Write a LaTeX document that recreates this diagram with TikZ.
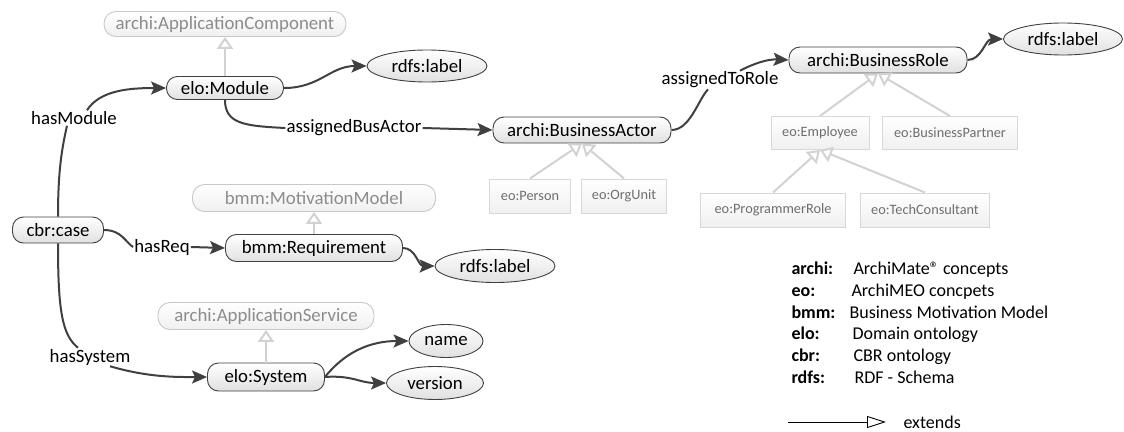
\documentclass[tikz,border=0pt]{standalone}
\usepackage{fontspec}
\setmainfont{Carlito}
\usetikzlibrary{arrows.meta,shapes.geometric}
\definecolor{edgec}{HTML}{404040}
\definecolor{genc}{HTML}{D2D2D2}
\definecolor{gtext}{HTML}{8C8C8C}
\definecolor{gborder}{HTML}{C8C8C8}
\definecolor{btext}{HTML}{6E6E6E}
\definecolor{bborder}{HTML}{D8D8D8}
\tikzset{
  pill/.style={draw=edgec, line width=0.9pt, rounded corners=11pt, top color=white, bottom color=black!12, inner sep=0pt},
  ghost/.style={draw=gborder, line width=0.9pt, text=gtext, rounded corners=12pt, top color=white, bottom color=black!6, inner sep=0pt},
  subbox/.style={draw=bborder, line width=1pt, text=btext, top color=white, bottom color=black!6, inner sep=0pt, font=\fontsize{14.3}{17}\selectfont},
  attr/.style={ellipse, draw=edgec, line width=0.9pt, top color=white, bottom color=black!12, inner sep=0pt},
  rel/.style={draw=edgec, line width=2pt, -{Stealth[length=15pt,width=13pt,inset=3pt]}},
  relplain/.style={draw=edgec, line width=2pt},
  isa/.style={draw=genc, line width=2pt, -{Triangle[open, length=12pt, width=16pt, fill=white]}},
  lbl/.style={inner sep=1pt},
  legkey/.style={anchor=base west, font=\fontsize{18}{22}\selectfont\bfseries},
  legval/.style={anchor=base west, font=\fontsize{18}{22}\selectfont},
}
\begin{document}
\begin{tikzpicture}[x=1pt,y=-1pt,font=\fontsize{18.8}{22}\selectfont]
\useasboundingbox (0,0) rectangle (1124,431);

% ghost supertypes
\node[ghost, minimum width=242pt, minimum height=25pt] (appcomp) at (225,24) {archi:ApplicationComponent};
\node[ghost, minimum width=243pt, minimum height=27pt] (motiv) at (314,198) {bmm:MotivationModel};
\node[ghost, minimum width=216pt, minimum height=27pt] (appserv) at (266,316) {archi:ApplicationService};

% main nodes
\node[pill, minimum width=117pt, minimum height=23pt] (module) at (225,88) {elo:Module};
\node[pill, minimum width=178pt, minimum height=26pt] (actor) at (582,130) {archi:BusinessActor};
\node[pill, minimum width=178pt, minimum height=26pt] (role) at (878,60) {archi:BusinessRole};
\node[pill, minimum width=177pt, minimum height=27pt] (req) at (314,248) {bmm:Requirement};
\node[pill, minimum width=91pt, minimum height=26pt] (case) at (58,230) {cbr:case};
\node[pill, minimum width=117pt, minimum height=28pt] (system) at (266,377) {elo:System};

% attributes
\node[attr, minimum width=120pt, minimum height=32pt] (lab1) at (427,66) {rdfs:label};
\node[attr, minimum width=119pt, minimum height=32pt] (lab2) at (1063,39) {rdfs:label};
\node[attr, minimum width=120pt, minimum height=33pt] (lab3) at (495,266) {rdfs:label};
\node[attr, minimum width=74pt, minimum height=33pt] (name) at (446,341) {name};
\node[attr, minimum width=97pt, minimum height=33pt] (version) at (435,383) {version};

% sub boxes
\node[subbox, minimum width=81pt, minimum height=34pt] (person) at (530,196) {eo:Person};
\node[subbox, minimum width=85pt, minimum height=34pt] (orgunit) at (624,196) {eo:OrgUnit};
\node[subbox, minimum width=98pt, minimum height=33pt] (employee) at (820,133) {eo:Employee};
\node[subbox, minimum width=135pt, minimum height=33pt] (partner) at (950,133) {eo:BusinessPartner};
\node[subbox, minimum width=145pt, minimum height=34pt] (programmer) at (773,210) {eo:ProgrammerRole};
\node[subbox, minimum width=129pt, minimum height=34pt] (tech) at (925,210) {eo:TechConsultant};

% edge labels
\node[lbl] (hm) at (74,118) {hasModule};
\node[lbl] (aba) at (354,128) {assignedBusActor};
\node[lbl] (atr) at (720,80) {assignedToRole};
\node[lbl] (hr) at (162,247) {hasReq};
\node[lbl] (hs) at (90,357) {hasSystem};

% generalisations
\draw[isa] (module.north) -- (appcomp.south);
\draw[isa] (req.north) -- (motiv.south);
\draw[isa] (system.north) -- (appserv.south);
\draw[isa] (person.north) -- (actor.south);
\draw[isa] (orgunit.north) -- (actor.south);
\draw[isa] (employee.north) -- (role.south);
\draw[isa] (partner.north) -- (role.south);
\draw[isa] (programmer.north) -- (employee.south);
\draw[isa] (tech.north) -- (employee.south);

% relations
\draw[relplain] (case.north) .. controls (58,170) and (62,148) .. ([xshift=-7pt]hm.south);
\draw[rel] ([xshift=13pt]hm.north) .. controls (100,90) and (130,88) .. (module.west);

\draw[relplain] (module.south) .. controls (225,124) and (245,126) .. (aba.west);
\draw[rel] (aba.east) -- (actor.west);

\draw[relplain] (actor.east) .. controls (690,130) and (698,100) .. ([xshift=-12pt]atr.south);
\draw[rel] ([xshift=20pt]atr.north) .. controls (755,63) and (768,59) .. (role.west);

\draw[rel] (module.east) .. controls (320,88) and (330,66) .. (lab1.west);
\draw[rel] (role.east) .. controls (982,60) and (985,39) .. (lab2.west);

\draw[relplain] (case.east) .. controls (122,230) and (126,243) .. (hr.west);
\draw[rel] (hr.east) -- (req.west);
\draw[rel] (req.east) .. controls (416,248) and (418,266) .. (lab3.west);

\draw[relplain] (case.south) .. controls (58,310) and (62,335) .. ([xshift=-12pt]hs.north);
\draw[rel] ([xshift=20pt]hs.south) .. controls (150,378) and (180,377) .. (system.west);
\draw[rel] (system.east) .. controls (345,352) and (370,341) .. (name.west);
\draw[rel] (system.east) .. controls (352,375) and (360,383) .. (version.west);

% legend
\node[legkey] (k1) at (788,274) {archi:};
\node[legval] (v1) at (850,274) {ArchiMate® concepts};
\node[legkey] (k2) at (788,296) {eo:};
\node[legval] (v2) at (848,296) {ArchiMEO concpets};
\node[legkey] (k3) at (788,318) {bmm:};
\node[legval] (v3) at (846,318) {Business Motivation Model};
\node[legkey] (k4) at (788,339) {elo:};
\node[legval] (v4) at (849,339) {Domain ontology};
\node[legkey] (k5) at (788,361) {cbr:};
\node[legval] (v5) at (850,361) {CBR ontology};
\node[legkey] (k6) at (788,383) {rdfs:};
\node[legval] (v6) at (851,383) {RDF - Schema};

\coordinate (ext0) at (788,422);
\node[legval, anchor=base west] (extl) at (900,428) {extends};
\draw[line width=0.9pt, -{Triangle[open, length=19pt, width=12pt, fill=white]}] (ext0) -- ([xshift=-14pt]extl.west |- ext0);
\end{tikzpicture}
\end{document}
